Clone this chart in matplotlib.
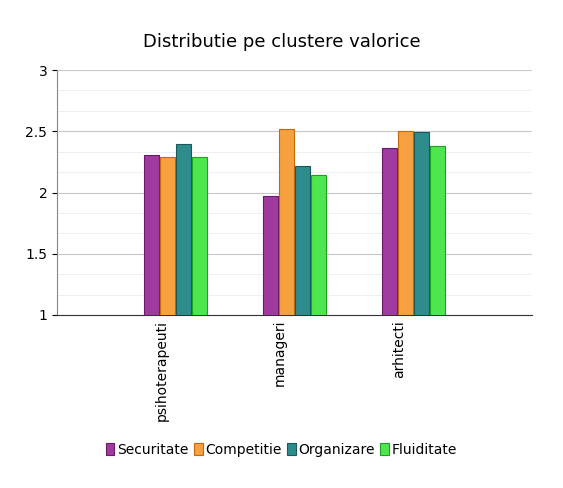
import matplotlib
matplotlib.use("Agg")
import matplotlib.pyplot as plt
import numpy as np

categories = ["psihoterapeuti", "manageri", "arhitecti"]
series = ["Securitate", "Competitie", "Organizare", "Fluiditate"]
values = {
    "Securitate": [2.31, 1.97, 2.36],
    "Competitie": [2.29, 2.52, 2.50],
    "Organizare": [2.40, 2.22, 2.49],
    "Fluiditate": [2.29, 2.14, 2.38],
}
colors = ["#a03aa0", "#f7a040", "#2f8c8c", "#4ee64e"]
edges = ["#6a1a6a", "#c06a10", "#1a5a5a", "#20a020"]

fig = plt.figure(figsize=(5.63, 4.88), dpi=100)
ax = fig.add_axes([57/563, 1-315/488, 475/563, 245/488])
x = np.arange(len(categories))
w = 0.125
for i, s in enumerate(series):
    ax.bar(x + (i-1.5)*(w+0.01), values[s], w, bottom=0, color=colors[i],
           edgecolor=edges[i], linewidth=0.8, label=s, zorder=3)
ax.set_ylim(1, 3)
ax.set_xlim(-1, 3)
ax.set_yticks([1, 1.5, 2, 2.5, 3])
ax.set_yticklabels(["1", "1.5", "2", "2.5", "3"])
ax.set_yticks(np.arange(1, 3.01, 1/6), minor=True)
ax.grid(axis="y", which="major", color="#c8c8c8", lw=0.8, zorder=0)
ax.grid(axis="y", which="minor", color="#ececec", lw=0.6, zorder=0)
ax.tick_params(axis="y", which="minor", length=0)
ax.set_xticks(x - 0.12)
ax.set_xticklabels(categories, rotation=90, fontsize=10)
ax.tick_params(axis="x", length=0)
ax.tick_params(axis="y", labelsize=10)
for sp in ["top", "right"]:
    ax.spines[sp].set_visible(False)
ax.spines["left"].set_color("#888888")
ax.spines["bottom"].set_color("#333333")
fig.text(0.5, 1-42/488, "Distributie pe clustere valorice", ha="center", va="center", fontsize=13)
fig.legend(loc="center", bbox_to_anchor=(0.5, 1-450/488), ncol=4, frameon=False,
           fontsize=10, handlelength=0.6, handleheight=1.0, handletextpad=0.2, columnspacing=0.4)
fig.savefig("out.png", dpi=100)
